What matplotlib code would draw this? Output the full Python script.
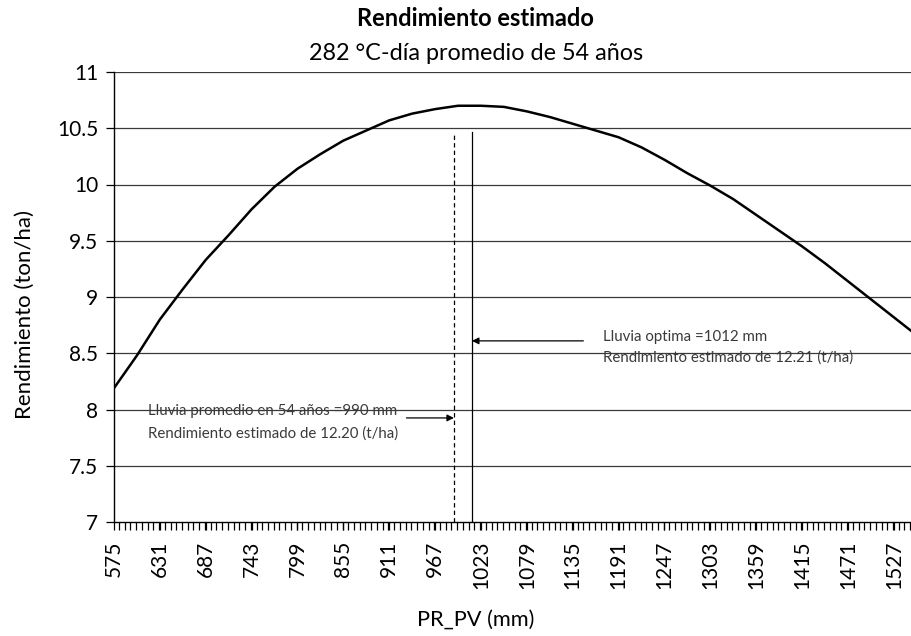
import matplotlib
matplotlib.use("Agg")
import matplotlib.pyplot as plt
from matplotlib.ticker import MultipleLocator, FixedLocator

plt.rcParams['font.family'] = ['Lato', 'DejaVu Sans']

# Rainfall (PR_PV, mm) and estimated yield (ton/ha)
lluvia_mm = [575, 603, 631, 659, 687, 715, 743, 771, 799, 827, 855, 883, 911,
             939, 967, 995, 1023, 1051, 1079, 1107, 1135, 1163, 1191, 1219,
             1247, 1275, 1303, 1331, 1359, 1387, 1415, 1443, 1471, 1499, 1527,
             1548]
rendimiento = [8.19, 8.48, 8.80, 9.07, 9.33, 9.55, 9.78, 9.98, 10.14, 10.27,
               10.39, 10.48, 10.57, 10.63, 10.67, 10.70, 10.70, 10.69, 10.65,
               10.60, 10.54, 10.48, 10.42, 10.33, 10.22, 10.10, 9.99, 9.87,
               9.73, 9.59, 9.45, 9.30, 9.14, 8.98, 8.82, 8.70]

x_tick_labels = [575, 631, 687, 743, 799, 855, 911, 967, 1023, 1079, 1135,
                 1191, 1247, 1303, 1359, 1415, 1471, 1527]
y_ticks = [7, 7.5, 8, 8.5, 9, 9.5, 10, 10.5, 11]
y_tick_labels = ['7', '7.5', '8', '8.5', '9', '9.5', '10', '10.5', '11']

lluvia_promedio = 990
lluvia_optima = 1012
marker_top = 10.47

W, H = 912, 636
fig = plt.figure(figsize=(W / 100, H / 100), dpi=100)
ax = fig.add_axes([114 / W, 1 - 522 / H, (911 - 114) / W, (522 - 72) / H])

# horizontal grid
for yv in y_ticks[1:]:
    ax.axhline(yv, color='#3a3a3a', lw=0.9, zorder=1)

ax.plot(lluvia_mm, rendimiento, color='black', lw=1.8, zorder=3,
        solid_joinstyle='round')

# reference lines
ax.plot([lluvia_promedio, lluvia_promedio], [7, marker_top], color='black',
        lw=0.9, dashes=(3.5, 2.5), zorder=2)
ax.plot([lluvia_optima, lluvia_optima], [7, marker_top], color='black',
        lw=0.9, zorder=2)

ax.set_xlim(575, 1548)
ax.set_ylim(7, 11)
ax.xaxis.set_major_locator(FixedLocator(x_tick_labels))
ax.xaxis.set_minor_locator(MultipleLocator(7))
ax.set_xticklabels([str(v) for v in x_tick_labels], rotation=90, fontsize=15)
ax.set_yticks(y_ticks)
ax.set_yticklabels(y_tick_labels, fontsize=15)
ax.tick_params(axis='x', which='both', direction='out', length=5.5,
               width=0.9, pad=8, colors='black')
ax.tick_params(axis='y', direction='out', length=5.5, width=0.9, pad=6)

for s in ['top', 'right']:
    ax.spines[s].set_visible(False)
for s in ['left', 'bottom']:
    ax.spines[s].set_linewidth(1.0)
    ax.spines[s].set_color('black')

# annotations
txt_kw = dict(fontsize=10.8, color='#3a3a3a', zorder=4)
ax.annotate('', xy=(lluvia_promedio, 7.925), xytext=(932, 7.925),
            arrowprops=dict(arrowstyle='-|>', color='black', lw=0.9,
                            mutation_scale=10, shrinkA=0, shrinkB=0))
ax.text(616, 7.99, 'Lluvia promedio en 54 años =990 mm', va='center', **txt_kw)
ax.text(616, 7.79, 'Rendimiento estimado de 12.20 (t/ha)', va='center', **txt_kw)

ax.annotate('', xy=(lluvia_optima, 8.61), xytext=(1148, 8.61),
            arrowprops=dict(arrowstyle='-|>', color='black', lw=0.9,
                            mutation_scale=10, shrinkA=0, shrinkB=0))
ax.text(1172, 8.645, 'Lluvia optima =1012 mm', va='center', **txt_kw)
ax.text(1172, 8.465, 'Rendimiento estimado de 12.21 (t/ha)', va='center', **txt_kw)

# titles and axis labels
fig.text(475 / W, 1 - 19 / H, 'Rendimiento estimado', ha='center',
         va='center', fontsize=17, fontweight='bold')
fig.text(476 / W, 1 - 53 / H, '282 °C-día promedio de 54 años', ha='center',
         va='center', fontsize=16.8)
fig.text(25 / W, 1 - 315 / H, 'Rendimiento (ton/ha)', ha='center',
         va='center', rotation=90, fontsize=16)
fig.text(476 / W, 1 - 620 / H, 'PR_PV (mm)', ha='center', va='center',
         fontsize=15.7)

fig.savefig('out.png', dpi=100)
